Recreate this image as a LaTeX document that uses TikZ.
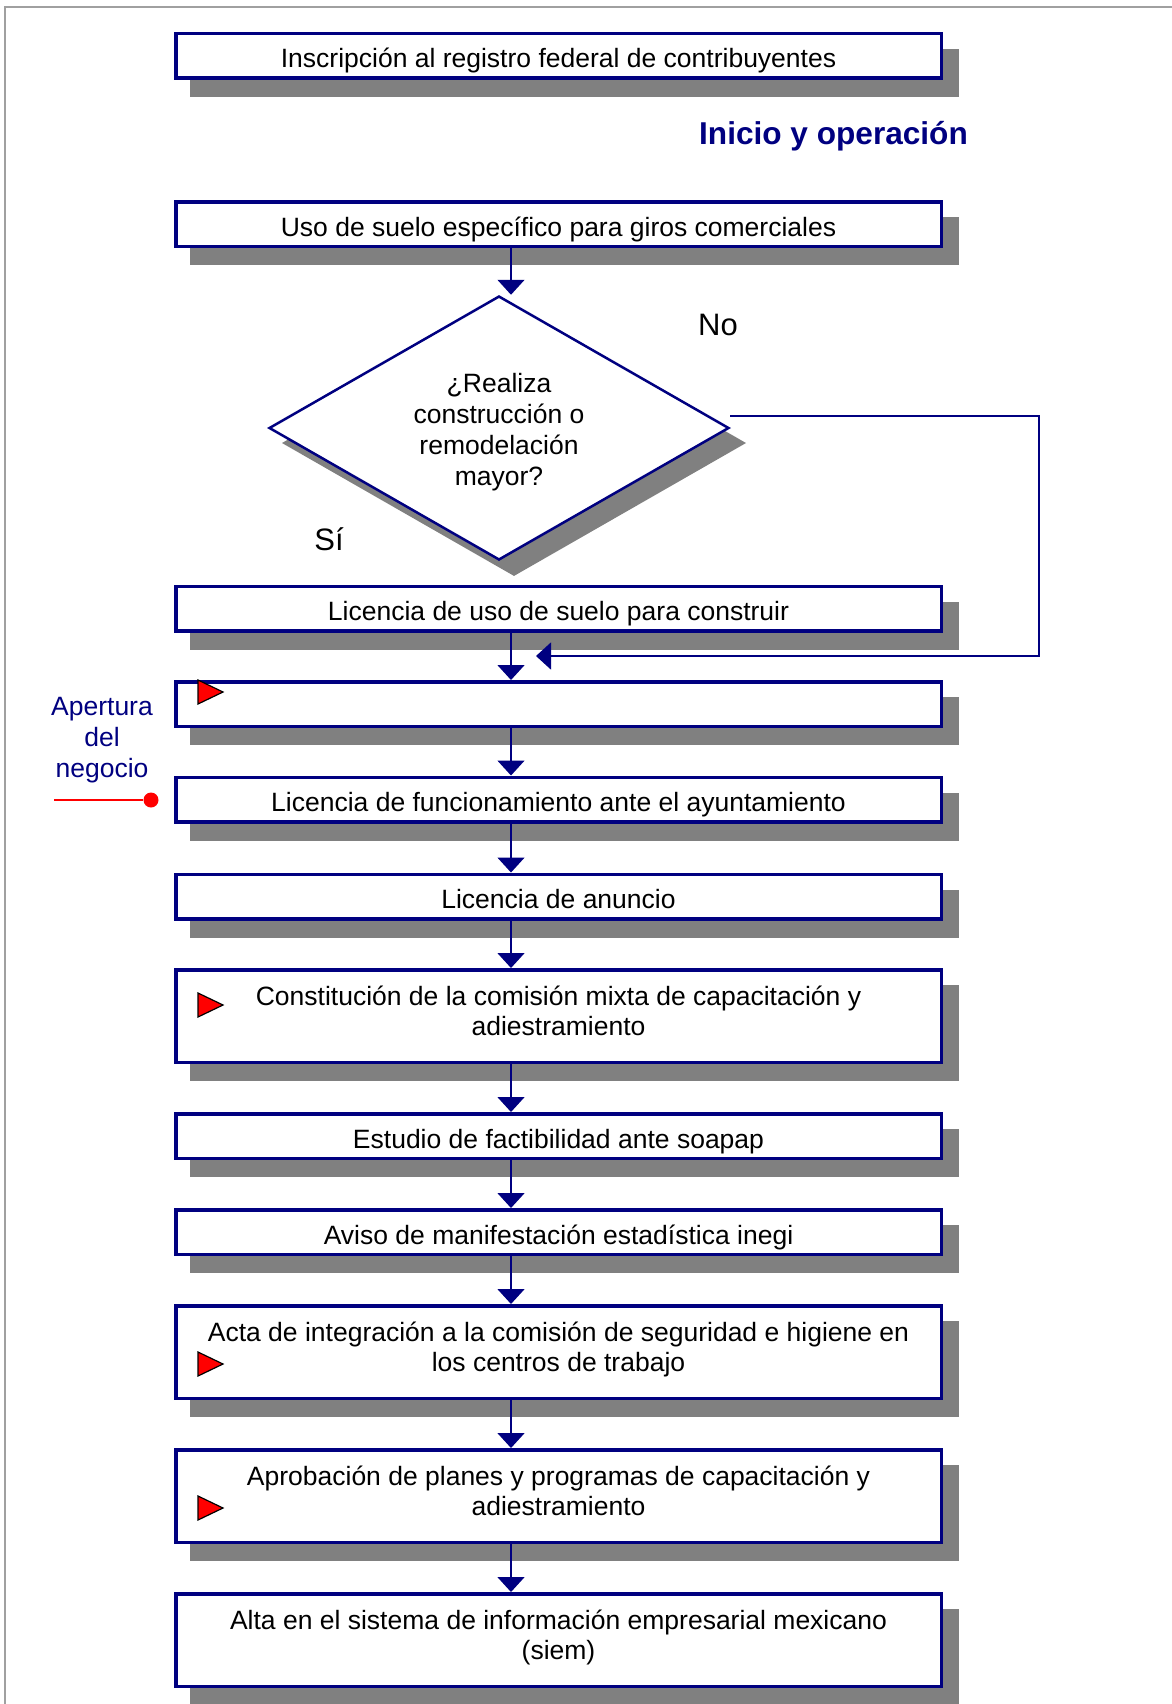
\documentclass[tikz,border=0pt]{standalone}
\usepackage{fontspec}
\setmainfont{Liberation Sans}
\usetikzlibrary{shapes.geometric,arrows.meta,calc}
\definecolor{navy}{RGB}{0,0,128}
\definecolor{shade}{RGB}{128,128,128}
\definecolor{pageline}{RGB}{160,160,160}
\newcommand{\redflag}[1]{\filldraw[fill=red,draw=black,line width=0.6pt]
  #1 ++(0,-12) -- ++(25,12) -- ++(-25,12) -- cycle;}

\begin{document}
\begin{tikzpicture}[x=0.5pt,y=-0.5pt,
  boxbase/.style={rectangle,draw=navy,line width=1.75pt,fill=white,
                  minimum width=382.75pt,inner sep=0pt,align=center,
                  font=\fontsize{13.25}{15}\selectfont,
                  preaction={fill=shade,draw=shade,
                             transform canvas={shift={(7.75pt,-8.5pt)}}}},
  stepbox/.style={boxbase,minimum height=22.25pt,text height=12pt,text depth=0pt},
  tallbox/.style={boxbase,minimum height=46.25pt,
                  execute at end node={\rule[-5pt]{0pt}{5pt}}},
  decide/.style={diamond,draw=navy,line width=1.25pt,fill=white,aspect=1.74,
                 minimum width=230pt,minimum height=132pt,inner sep=0pt,
                 preaction={fill=shade,draw=shade,
                            transform canvas={shift={(7.5pt,-7.5pt)}}}},
  flow/.style={draw=navy,line width=0.8pt,
               -{Triangle[width=13.5pt,length=7.5pt]}}]
  \useasboundingbox (0,0) rectangle (1172,1704);
  \draw[pageline,line width=1pt] (5,1704) -- (5,7) -- (1172,7);

  % Registro y uso de suelo
  \node[stepbox] (b1) at (558.5,55.5) {Inscripción al registro federal de contribuyentes};
  \node[font=\fontsize{15.8}{18}\selectfont\bfseries,text=navy,anchor=base]
    (title) at (833.5,144) {Inicio y operación};
  \node[stepbox] (b2) at (558.5,224) {Uso de suelo específico para giros comerciales};
  \node[decide] (dia) at (499,428) {};
  \node[align=center,inner sep=0pt,font=\fontsize{13.25}{15.4}\selectfont]
    (ask) at (499,432) {¿Realiza\\construcción o\\remodelación\\mayor?};
  \node[font=\fontsize{15.5}{18}\selectfont,anchor=base] (nolab) at (718,335) {No};
  \node[font=\fontsize{15.5}{18}\selectfont,anchor=base] (silab) at (329,550) {Sí};
  \node[stepbox] (b3) at (558.5,608.5) {Licencia de uso de suelo para construir};

  % Apertura del negocio y tramites siguientes
  \node[stepbox] (b4) at (558.5,704) {};
  \node[stepbox] (b5) at (558.5,799.5) {Licencia de funcionamiento ante el ayuntamiento};
  \node[stepbox] (b6) at (558.5,896.5) {Licencia de anuncio};
  \node[tallbox] (b7) at (558.5,1016) {Constitución de la comisión mixta de capacitación y\\adiestramiento};
  \node[stepbox] (b8) at (558.5,1136) {Estudio de factibilidad ante soapap};
  \node[stepbox] (b9) at (558.5,1232) {Aviso de manifestación estadística inegi};
  \node[tallbox] (b10) at (558.5,1352) {Acta de integración a la comisión de seguridad e higiene en\\los centros de trabajo};
  \node[tallbox] (b11) at (558.5,1496) {Aprobación de planes y programas de capacitación y\\adiestramiento};
  \node[tallbox] (b12) at (558.5,1640) {Alta en el sistema de información empresarial mexicano\\(siem)};

  \node[text=navy,align=center,font=\fontsize{13.25}{15.5}\selectfont]
    (apertura) at (102,740) {Apertura\\del\\negocio};
  \node[circle,fill=red,inner sep=0pt,minimum size=7.5pt] (dot) at (151,800) {};
  \coordinate (mark) at (54,800);
  \draw[red,line width=1pt] (mark) -- (dot);

  \redflag{($(b4.north west)+(24,12)$)}
  \redflag{($(b7.north west)+(24,37)$)}
  \redflag{($(b10.north west)+(24,60)$)}
  \redflag{($(b11.north west)+(24,60)$)}

  % Conectores
  \coordinate (spine) at (511,0);
  \coordinate (nobend) at (1039,656);
  \coordinate (nojoin) at (536,656);
  \draw[flow] (b2.south -| spine) -- (dia.north -| spine);
  \draw[flow] ([yshift=6pt]dia.east) -| (nobend) -- (nojoin);
  \foreach \a/\b in {b3/b4,b4/b5,b5/b6,b6/b7,b7/b8,b8/b9,b9/b10,b10/b11,b11/b12}
    \draw[flow] (\a.south -| spine) -- (\b.north -| spine);
\end{tikzpicture}
\end{document}
